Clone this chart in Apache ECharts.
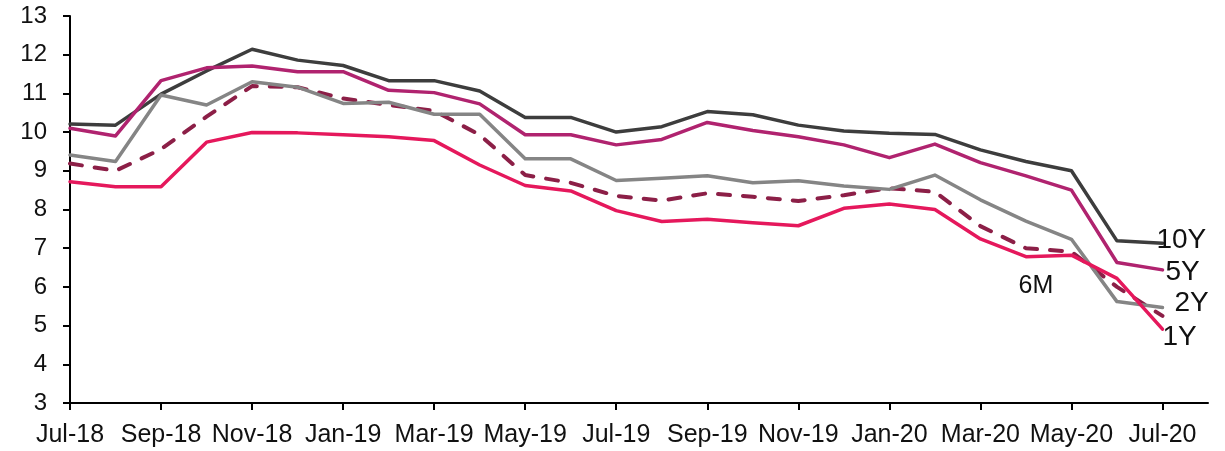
<!DOCTYPE html>
<html>
<head>
<meta charset="utf-8">
<style>
  html, body { margin: 0; padding: 0; background: #fff; }
  #chart { width: 1225px; height: 451px; }
</style>
<script src="https://cdn.jsdelivr.net/npm/echarts@6/dist/echarts.min.js"></script>
</head>
<body>
<div id="chart"></div>
<script>
// Monthly yields, Jul-18 to Jul-20 (one trailing blank slot keeps room after the last month)
const months = ['Jul-18','Aug-18','Sep-18','Oct-18','Nov-18','Dec-18','Jan-19','Feb-19','Mar-19','Apr-19',
  'May-19','Jun-19','Jul-19','Aug-19','Sep-19','Oct-19','Nov-19','Dec-19','Jan-20','Feb-20',
  'Mar-20','Apr-20','May-20','Jun-20','Jul-20',''];

const y10 = [10.21,10.18,10.98,11.58,12.14,11.86,11.72,11.33,11.33,11.06,10.38,10.38,10.00,10.14,10.53,10.45,10.18,10.03,9.97,9.94,9.54,9.24,9.00,7.19,7.13];
const y5  = [10.10,9.90,11.33,11.66,11.71,11.56,11.56,11.08,11.02,10.73,9.93,9.93,9.67,9.81,10.25,10.04,9.88,9.67,9.34,9.69,9.21,8.87,8.50,6.63,6.44];
const y2  = [9.41,9.24,10.96,10.70,11.30,11.16,10.74,10.77,10.46,10.46,9.31,9.31,8.75,8.81,8.87,8.69,8.74,8.61,8.52,8.89,8.25,7.70,7.23,5.62,5.47];
const m6  = [9.19,9.00,9.56,10.40,11.19,11.16,10.87,10.70,10.55,9.93,8.89,8.69,8.35,8.23,8.42,8.33,8.22,8.37,8.55,8.46,7.57,7.00,6.91,6.00,5.25];
const y1  = [8.72,8.59,8.59,9.74,9.99,9.98,9.93,9.88,9.78,9.15,8.62,8.48,7.97,7.69,7.75,7.66,7.58,8.03,8.14,8.00,7.24,6.78,6.82,6.22,4.91];

const yTicks = { min: 3, max: 13, interval: 1 };
const FONT = '"Liberation Sans", Arial, sans-serif';

function solid(name, data, color, labelOffset) {
  return {
    name, type: 'line', data, symbol: 'none', z: 3,
    lineStyle: { color, width: 3.5, cap: 'round', join: 'round' },
    endLabel: {
      show: true, formatter: name, color: '#111', fontFamily: FONT, fontSize: 28,
      distance: 0, offset: labelOffset
    }
  };
}

// 6M curve carries its name below the Apr-20 point
const m6Data = m6.map((v, i) => i === 21
  ? { value: v, label: { show: true, position: 'bottom', distance: 25, offset: [10, 0], formatter: '6M',
      color: '#111', fontFamily: FONT, fontSize: 25 } }
  : v);

const chart = echarts.init(document.getElementById('chart'));
chart.setOption({
  animation: false,
  grid: { left: 70, right: 17, top: 16, bottom: 48 },
  xAxis: {
    type: 'category', data: months, boundaryGap: false,
    axisLine: { lineStyle: { color: '#000', width: 2 } },
    axisTick: { interval: 1, length: 7, inside: false, lineStyle: { color: '#000', width: 2 } },
    axisLabel: { interval: 1, margin: 20, color: '#111', fontFamily: FONT, fontSize: 25 },
    splitLine: { show: false }
  },
  yAxis: {
    type: 'value', min: yTicks.min, max: yTicks.max, interval: yTicks.interval,
    axisLine: { show: true, lineStyle: { color: '#000', width: 2 } },
    axisTick: { show: true, length: 7, lineStyle: { color: '#000', width: 2 } },
    axisLabel: { margin: 23, color: '#111', fontFamily: FONT, fontSize: 24 },
    splitLine: { show: false }
  },
  series: [
    solid('10Y', y10, '#3d3d3d', [-6, -3]),
    solid('5Y', y5, '#b0236f', [3, 2]),
    solid('2Y', y2, '#858585', [12, -4]),
    {
      name: '6M', type: 'line', data: m6Data, symbol: 'circle', symbolSize: 0, showSymbol: true, z: 2,
      itemStyle: { color: 'rgba(0,0,0,0)' },
      lineStyle: { color: '#8c1f47', width: 4, type: [12, 13], cap: 'round' }
    },
    solid('1Y', y1, '#e5185c', [0, 8])
  ]
});
</script>
</body>
</html>
